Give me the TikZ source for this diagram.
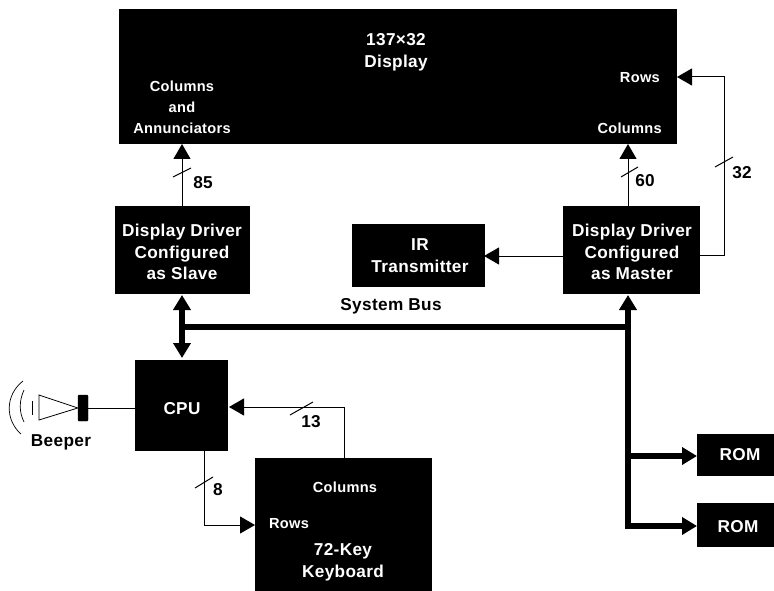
\documentclass[tikz,border=0pt]{standalone}
\usepackage{fontspec}
\setmainfont[LetterSpace=2]{Liberation Sans}
\usetikzlibrary{arrows.meta}
\begin{document}
\begin{tikzpicture}[x=1pt,y=-1pt,
  blk/.style={fill=black,draw=black,inner sep=0pt,anchor=north west},
  lab/.style={font=\fontsize{14.6}{21}\selectfont\bfseries,text=white,align=center,inner sep=0pt},
  big/.style={font=\fontsize{17.2}{21.7}\selectfont\bfseries,text=white,align=center,inner sep=0pt},
  num/.style={font=\fontsize{17.2}{18}\selectfont\bfseries,inner sep=0pt},
  sigline/.style={line width=1pt,-{Triangle[length=15pt,width=17pt]}},
  plainline/.style={line width=1pt},
  busline/.style={line width=6.5pt,-{Triangle[length=15pt,width=17pt]}},
  dblbus/.style={line width=6.5pt,{Triangle[length=15pt,width=17pt]}-{Triangle[length=15pt,width=17pt]}},
  slash/.style={line width=1pt}]
\useasboundingbox (0,0) rectangle (774,591);
\node[blk,minimum width=557pt,minimum height=134pt] (disp) at (119,9.5) {};
\node[blk,minimum width=134pt,minimum height=87pt] (slave) at (115,206) {};
\node[big] (slavet) at (182,252) {Display Driver\\Configured\\as Slave};
\node[blk,minimum width=136pt,minimum height=87pt] (master) at (563,206) {};
\node[big] (mastert) at (632,252) {Display Driver\\Configured\\as Master};
\node[blk,minimum width=132pt,minimum height=62pt] (ir) at (352,224) {};
\node[big] (irt) at (420,255.5) {IR\\Transmitter};
\node[blk,minimum width=92pt,minimum height=90pt] (cpu) at (135,360) {};
\node[big] (cput) at (182,409) {CPU};
\node[blk,minimum width=176pt,minimum height=133pt] (kbd) at (255,458) {};
\node[blk,minimum width=77pt,minimum height=41pt] (rom1) at (697,434) {};
\node[big] (rom1t) at (740,454.5) {ROM};
\node[blk,minimum width=77pt,minimum height=43pt] (rom2) at (697,503) {};
\node[big] (rom2t) at (738,527) {ROM};
% display labels
\node[big] (dt) at (396,52) {137×32\\Display};
\node[lab] (ca) at (182,107) {Columns\\and\\Annunciators};
\node[lab,anchor=east] (dr) at (660,78) {Rows};
\node[lab,anchor=east] (dc) at (662,128) {Columns};
% keyboard labels
\node[lab] (kc) at (345,487) {Columns};
\node[lab] (kr) at (289,524) {Rows};
\node[big] (kn) at (343,562) {72-Key\\Keyboard};
% connectors
\coordinate (a1) at (182,144);
\coordinate (a2) at (182,206);
\draw[sigline] (a2) -- (a1);
\coordinate (b1) at (628,144);
\coordinate (b2) at (628,206);
\draw[sigline] (b2) -- (b1);
\coordinate (r1) at (699,255);
\coordinate (r2) at (724,255);
\coordinate (r3) at (724,77);
\coordinate (r4) at (677,77);
\draw[sigline] (r1) -- (r2) -- (r3) -- (r4);
\coordinate (i1) at (563,256);
\coordinate (i2) at (484,256);
\draw[sigline] (i1) -- (i2);
% bus
\coordinate (v0) at (628,295);
\coordinate (v1) at (628,327);
\coordinate (v3) at (182,327);
\coordinate (u0) at (182,295);
\coordinate (u1) at (182,358);
\coordinate (w1) at (628,456);
\coordinate (w2) at (628,526);
\draw[line width=6.5pt] (v3) -- (v1);
\draw[dblbus] (u0) -- (u1);
\draw[busline] (w2) -- (v0);
\draw[busline,line cap=rect] (w2) -- (rom2.west |- w2);
\draw[busline] (w1) -- (rom1.west |- w1);
\node[num] (sb) at (391,306) {System Bus};
% keyboard and cpu
\coordinate (k1) at (344,458);
\coordinate (k2) at (344,407);
\coordinate (k3) at (229,407);
\draw[sigline] (k1) -- (k2) -- (k3);
\coordinate (c1) at (204,450);
\coordinate (c2) at (204,525);
\coordinate (c3) at (255,525);
\draw[sigline] (c1) -- (c2) -- (c3);
% slashes & numbers
\draw[slash] (173,177) -- (191,168);
\node[num] (n85) at (203,183) {85};
\draw[slash] (621,177) -- (638,167);
\node[num] (n60) at (645,181) {60};
\draw[slash] (715,167) -- (733,157);
\node[num] (n32) at (742,173) {32};
\draw[slash] (290,415) -- (313,402);
\node[num] (n13) at (311,422) {13};
\draw[slash] (195,488) -- (213,477);
\node[num] (n8) at (218,490) {8};
% beeper
\node[fill=black,draw=black,inner sep=0pt,minimum width=10pt,minimum height=26pt,rounded corners=1pt] (mag) at (83,408) {};
\draw[plainline] (mag.east) -- (cpu.west |- mag.east);
\coordinate (t1) at (39,395);
\coordinate (t2) at (39,420);
\draw[line width=.8pt] (mag.west) -- (t1) -- (t2) -- cycle;
\draw[line width=1pt] (32,401) -- (32,415);
\draw[line width=.7pt] (24,390) .. controls (19,401) and (19,412) .. (24,422);
\draw[line width=.7pt] (23,381) .. controls (5,395) and (5,420) .. (21,434);
\node[text=black,font=\fontsize{17.2}{18}\selectfont\bfseries,inner sep=0pt] (bp) at (61,442) {Beeper};
\end{tikzpicture}
\end{document}
